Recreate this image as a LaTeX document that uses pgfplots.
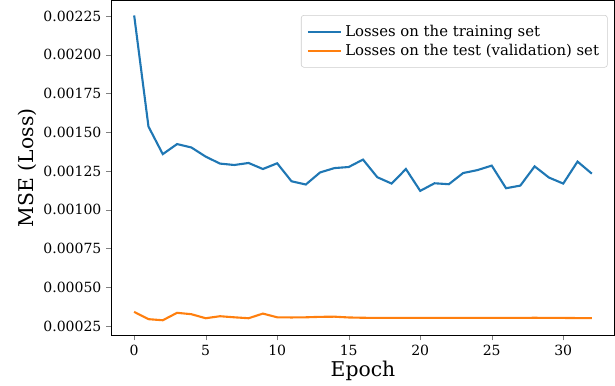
\documentclass[border=0pt]{standalone}
\usepackage{pgfplots}
\pgfplotsset{compat=1.18}
\usepackage{fontspec}
\setmainfont{DejaVu Serif}
\definecolor{tabblue}{HTML}{1F77B4}
\definecolor{taborange}{HTML}{FF7F0E}
\begin{document}
\begin{tikzpicture}
\begin{axis}[
  scale only axis,
  width=359pt, height=239pt,
  xmin=-1.6, xmax=33.6,
  ymin=0.000189, ymax=0.002352,
  xtick={0,5,10,15,20,25,30},
  ytick={0.00025,0.0005,0.00075,0.001,0.00125,0.0015,0.00175,0.002,0.00225},
  scaled y ticks=false,
  yticklabel style={/pgf/number format/.cd, fixed, fixed zerofill, precision=5, assume math mode=true},
  xticklabel style={/pgf/number format/assume math mode=true},
  tick label style={font=\fontsize{10}{12}\selectfont},
  tick align=outside,
  xtick pos=bottom, ytick pos=left,
  major tick length=3.5pt,
  xlabel={Epoch}, ylabel={MSE (Loss)},
  label style={font=\fontsize{14.5}{17}\selectfont},
  xlabel style={yshift=3pt},
  ylabel style={yshift=-2pt},
  legend style={at={(1,1)}, xshift=-5pt, yshift=-10.5pt, anchor=north east, font=\fontsize{10.6}{12}\selectfont, draw=black!20, rounded corners=2pt, row sep=0pt, inner xsep=4pt, inner ysep=5pt},
  legend cell align=left,
  legend image post style={xscale=1.4},
]
\addplot[tabblue, line width=1.5pt] coordinates {
(0,0.002254)(1,0.001537)(2,0.001359)(3,0.001424)(4,0.001402)(5,0.001343)(6,0.001298)(7,0.001289)(8,0.001302)(9,0.001263)(10,0.001300)(11,0.001184)(12,0.001163)(13,0.001241)(14,0.001269)(15,0.001276)(16,0.001324)(17,0.001210)(18,0.001169)(19,0.001263)(20,0.001122)(21,0.001171)(22,0.001165)(23,0.001237)(24,0.001256)(25,0.001285)(26,0.001139)(27,0.001156)(28,0.001280)(29,0.001208)(30,0.001169)(31,0.001311)(32,0.001233)
};
\addlegendentry{Losses on the training set}
\addplot[taborange, line width=1.5pt] coordinates {
(0,0.000341)(1,0.000294)(2,0.000287)(3,0.000335)(4,0.000326)(5,0.000300)(6,0.000313)(7,0.000306)(8,0.000300)(9,0.000330)(10,0.000306)(11,0.000305)(12,0.000306)(13,0.000309)(14,0.000310)(15,0.000305)(16,0.000303)(17,0.000302)(18,0.000302)(19,0.000302)(20,0.000302)(21,0.000302)(22,0.000302)(23,0.000302)(24,0.000302)(25,0.000302)(26,0.000302)(27,0.000302)(28,0.000303)(29,0.000302)(30,0.000302)(31,0.000301)(32,0.000301)
};
\addlegendentry{Losses on the test (validation) set}
\end{axis}
\path ([xshift=-9.5pt]current bounding box.west);
\end{tikzpicture}
\end{document}
